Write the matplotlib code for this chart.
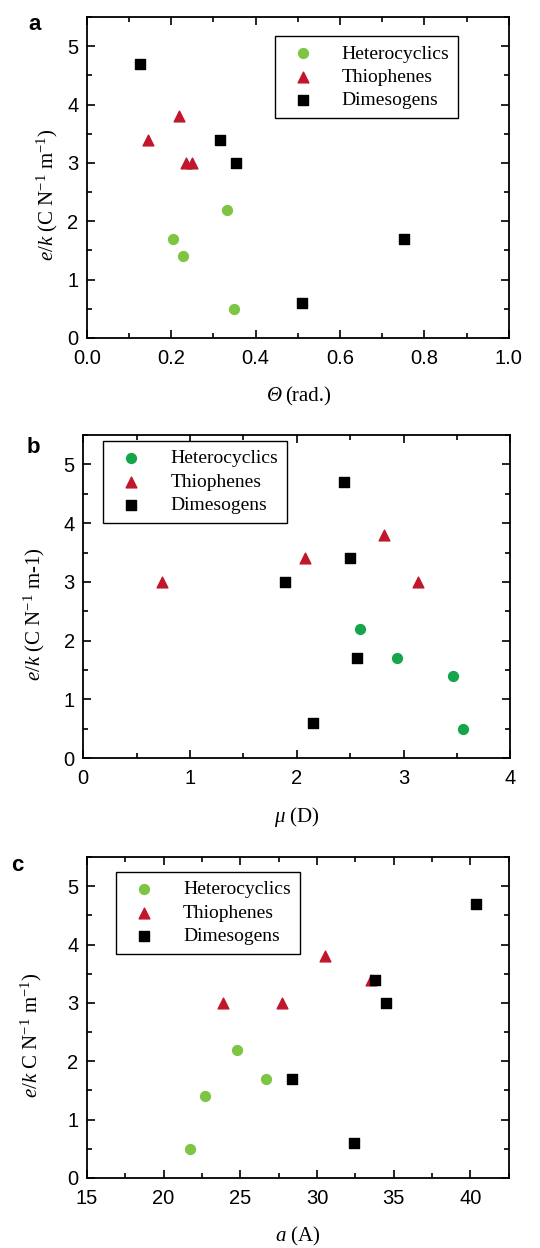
import matplotlib
matplotlib.use("Agg")
import matplotlib.pyplot as plt
from matplotlib.ticker import MultipleLocator, FormatStrFormatter

plt.rcParams["mathtext.fontset"] = "custom"
plt.rcParams["mathtext.rm"] = "Liberation Serif"
plt.rcParams["mathtext.it"] = "Liberation Serif:italic"
plt.rcParams["mathtext.bf"] = "Liberation Serif:bold"

# Datos (e/k en C N^-1 m^-1)
theta_het = [0.204, 0.228, 0.331, 0.349]
ek_het_a = [1.7, 1.4, 2.2, 0.5]
theta_thio = [0.144, 0.218, 0.235, 0.250]
ek_thio_a = [3.4, 3.8, 3.0, 3.0]
theta_dim = [0.126, 0.315, 0.354, 0.509, 0.751]
ek_dim_a = [4.7, 3.4, 3.0, 0.6, 1.7]

mu_het = [2.596, 2.936, 3.463, 3.554]
ek_het_b = [2.2, 1.7, 1.4, 0.5]
mu_thio = [0.739, 2.075, 2.820, 3.139]
ek_thio_b = [3.0, 3.4, 3.8, 3.0]
mu_dim = [1.888, 2.446, 2.496, 2.565, 2.156]
ek_dim_b = [3.0, 4.7, 3.4, 1.7, 0.6]

a_het = [21.73, 22.70, 24.79, 26.65]
ek_het_c = [0.5, 1.4, 2.2, 1.7]
a_thio = [23.9, 27.7, 30.5, 33.5]
ek_thio_c = [3.0, 3.0, 3.8, 3.4]
a_dim = [28.4, 32.4, 33.8, 34.5, 40.4]
ek_dim_c = [1.7, 0.6, 3.4, 3.0, 4.7]

series_labels = ["Heterocyclics", "Thiophenes", "Dimesogens"]

verde_claro = "#7cc644"
verde_oscuro = "#16a54b"
rojo = "#c1172c"

serif = ["Liberation Serif", "DejaVu Serif"]
sans = ["Liberation Sans", "DejaVu Sans"]

fig = plt.figure(figsize=(5.4, 12.48), dpi=100)


def panel(rect, xs, ys, verde, xlim, xmaj, xmin, xlabel, ylabel, letra, letra_pos,
          leg_anchor, ylabel_x, fmt=None):
    ax = fig.add_axes(rect)
    ax.scatter(xs[0], ys[0], s=50, marker="o", color=verde, label=series_labels[0], zorder=3)
    ax.scatter(xs[1], ys[1], s=60, marker="^", color=rojo, label=series_labels[1], zorder=3)
    ax.scatter(xs[2], ys[2], s=42, marker="s", color="black", label=series_labels[2], zorder=3)
    ax.set_xlim(*xlim)
    ax.set_ylim(0, 5.5)
    ax.xaxis.set_major_locator(MultipleLocator(xmaj))
    ax.xaxis.set_minor_locator(MultipleLocator(xmin))
    ax.yaxis.set_major_locator(MultipleLocator(1))
    ax.yaxis.set_minor_locator(MultipleLocator(0.5))
    if fmt:
        ax.xaxis.set_major_formatter(fmt)
    ax.tick_params(which="both", direction="in", top=True, right=True, width=1.2)
    ax.tick_params(which="major", length=6, labelsize=14.5)
    ax.tick_params(axis="x", which="major", pad=8)
    ax.tick_params(axis="y", which="major", pad=6)
    ax.tick_params(which="minor", length=3.5)
    for lab in ax.get_xticklabels() + ax.get_yticklabels():
        lab.set_family(sans)
    for s in ax.spines.values():
        s.set_linewidth(1.3)
    if xlabel:
        ax.set_xlabel(xlabel, fontsize=15, family=serif, labelpad=12)
    ax.set_ylabel(ylabel, fontsize=15, family=serif)
    ax.yaxis.set_label_coords(ylabel_x, 0.445)
    leg = ax.legend(loc="upper left", bbox_to_anchor=leg_anchor, prop={"family": serif, "size": 14},
                    frameon=True, fancybox=False, edgecolor="black", framealpha=1,
                    handletextpad=1.0, borderpad=0.45, labelspacing=0.3, borderaxespad=0)
    leg.get_frame().set_linewidth(1.0)
    ax.text(letra_pos[0], letra_pos[1], letra, transform=ax.transAxes, fontsize=16,
            fontweight="bold", family=sans, va="center", ha="center")
    return ax


ax_a = panel([0.161, 0.7292, 0.781, 0.2572],
             [theta_het, theta_thio, theta_dim], [ek_het_a, ek_thio_a, ek_dim_a],
             verde_claro, (0, 1.0), 0.2, 0.1,
             None,
             r"$\mathit{e/k}$ (C N$^{-1}$ m$^{-1}$)",
             "a", (-0.125, 0.975), (0.445, 0.94), -0.063,
             fmt=FormatStrFormatter("%.1f"))
# Θ en cursiva (mathtext deja las mayúsculas griegas rectas)
ax_a.text(0.462, -0.197, "Θ", transform=ax_a.transAxes, fontsize=15, family=serif,
          style="italic", ha="right", va="baseline")
ax_a.text(0.470, -0.197, "(rad.)", transform=ax_a.transAxes, fontsize=15, family=serif,
          ha="left", va="baseline")

panel([0.154, 0.3926, 0.791, 0.2588],
      [mu_het, mu_thio, mu_dim], [ek_het_b, ek_thio_b, ek_dim_b],
      verde_oscuro, (0, 4), 1, 0.5,
      r"$\mathit{\mu}$ (D)",
      r"$\mathit{e/k}$ (C N$^{-1}$ m-1)",
      "b", (-0.117, 0.963), (0.047, 0.982), -0.084)

panel([0.161, 0.0561, 0.781, 0.2572],
      [a_het, a_thio, a_dim], [ek_het_c, ek_thio_c, ek_dim_c],
      verde_claro, (15, 42.5), 5, 2.5,
      r"$\mathit{a}$ (A)",
      r"$\mathit{e/k}$ C N$^{-1}$ m$^{-1}$)",
      "c", (-0.166, 0.975), (0.069, 0.953), -0.101)

fig.savefig("out.png", dpi=100)
